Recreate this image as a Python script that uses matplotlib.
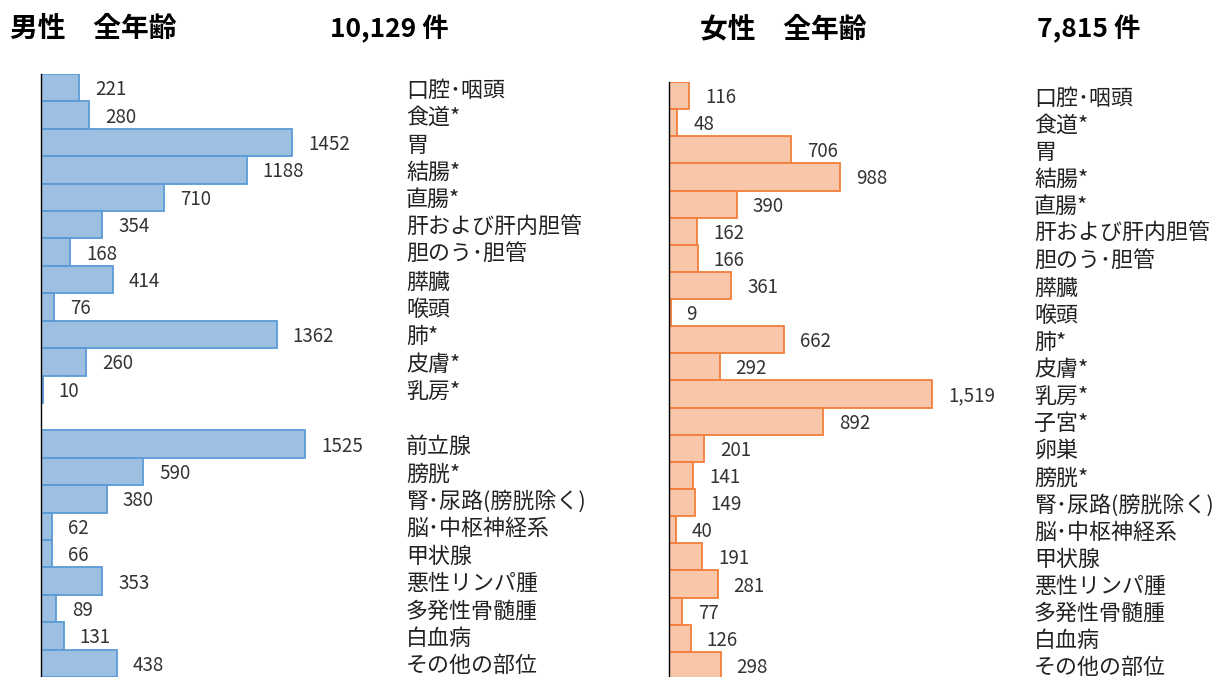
import matplotlib.pyplot as plt
import matplotlib.transforms as mtransforms

plt.rcParams['font.family'] = ['Noto Sans CJK JP', 'DejaVu Sans']

# === Data ===
male_sites = ['口腔･咽頭', '食道*', '胃', '結腸*', '直腸*', '肝および肝内胆管', '胆のう･胆管',
              '膵臓', '喉頭', '肺*', '皮膚*', '乳房*', '',
              '前立腺', '膀胱*', '腎･尿路(膀胱除く)', '脳･中枢神経系', '甲状腺',
              '悪性リンパ腫', '多発性骨髄腫', '白血病', 'その他の部位']
male_counts = [221, 280, 1452, 1188, 710, 354, 168, 414, 76, 1362, 260, 10, None,
               1525, 590, 380, 62, 66, 353, 89, 131, 438]

female_sites = ['口腔･咽頭', '食道*', '胃', '結腸*', '直腸*', '肝および肝内胆管', '胆のう･胆管',
                '膵臓', '喉頭', '肺*', '皮膚*', '乳房*', '子宮*', '卵巣', '膀胱*',
                '腎･尿路(膀胱除く)', '脳･中枢神経系', '甲状腺', '悪性リンパ腫',
                '多発性骨髄腫', '白血病', 'その他の部位']
female_counts = [116, 48, 706, 988, 390, 162, 166, 361, 9, 662, 292, 1519, 892, 201, 141,
                 149, 40, 191, 281, 77, 126, 298]

male_total = '10,129 件'
female_total = '7,815 件'

W, H = 1220, 677
fig = plt.figure(figsize=(W / 100, H / 100), dpi=100)


def panel(rect, sites, counts, face, edge, label_x, fmt):
    ax = fig.add_axes(rect)
    ys = [i for i, v in enumerate(counts) if v is not None]
    vals = [v for v in counts if v is not None]
    ax.barh(ys, vals, height=1.0, color=face, edgecolor=edge, linewidth=1.3)
    ax.set_ylim(len(counts) - 0.5, -0.5)
    ax.set_xlim(0, 2074)
    for s in ['top', 'right', 'bottom']:
        ax.spines[s].set_visible(False)
    ax.spines['left'].set_color('black')
    ax.spines['left'].set_linewidth(1.0)
    ax.set_xticks([])
    ax.set_yticks([])
    ax.patch.set_alpha(0)
    for y, v in zip(ys, vals):
        ax.annotate(fmt(v), (v, y), xytext=(16, -2), textcoords='offset pixels',
                    va='center', ha='left', fontsize=13.5, color='#333333')
    shift = mtransforms.ScaledTranslation(0, -3 / 100, fig.dpi_scale_trans)
    tr = mtransforms.blended_transform_factory(fig.transFigure, ax.transData) + shift
    for y, s in enumerate(sites):
        if s:
            fig.text(label_x / W, y, s, transform=tr, va='center', ha='left',
                     fontsize=15.8, color='#222222')
    return ax


panel([41 / W, 0, 359 / W, (677 - 74) / H], male_sites, male_counts,
      '#9DC0E2', '#5B9BD5', 406, lambda v: str(v))
panel([669 / W, -2 / H, 359 / W, (679 - 82) / H], female_sites, female_counts,
      '#F8C6A8', '#F27F3C', 1034, lambda v: f'{v:,}')

fig.text(10 / W, 1 - 29 / H, '男性　全年齢', fontsize=20, fontweight='bold', va='center', ha='left')
fig.text(330 / W, 1 - 29 / H, male_total, fontsize=19, fontweight='bold', va='center', ha='left')
fig.text(700 / W, 1 - 29 / H, '女性　全年齢', fontsize=20, fontweight='bold', va='center', ha='left')
fig.text(1037 / W, 1 - 29 / H, female_total, fontsize=19, fontweight='bold', va='center', ha='left')

fig.savefig('out.png', dpi=100)
